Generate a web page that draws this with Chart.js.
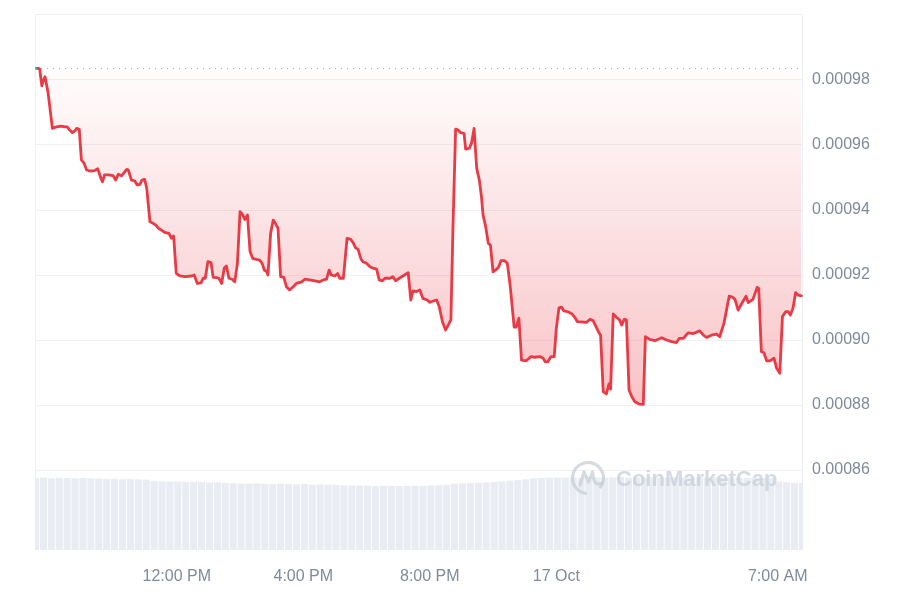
<!DOCTYPE html>
<html>
<head>
<meta charset="utf-8">
<script src="https://cdn.jsdelivr.net/npm/chart.js@4.4.1/dist/chart.umd.min.js"></script>
<style>
  html, body { margin: 0; padding: 0; background: #ffffff; }
  #wrap { width: 900px; height: 600px; }
</style>
</head>
<body>
<div id="wrap"><canvas id="c" width="900" height="600"></canvas></div>
<script>
// ---- DATA ----
// time in minutes since 00:00 on 16 Oct
const times = [
  453, 457, 460, 464, 466, 470, 473, 476, 479, 484, 492, 501, 508, 512, 517, 522, 527, 530, 535, 539,
  544, 549, 555, 564, 570, 575, 579, 583, 590, 599, 604, 609, 615, 619, 625, 628, 634, 640, 645, 650,
  654, 659, 663, 669, 675, 680, 685, 691, 697, 705, 710, 714, 719, 726, 735, 748, 753, 759, 766, 770,
  774, 779, 785, 789, 795, 800, 805, 810, 814, 819, 825, 830, 835, 840, 844, 849, 854, 859, 864, 871,
  877, 882, 886, 890, 893, 898, 903, 907, 912, 917, 923, 928, 934, 941, 947, 957, 963, 972, 982, 991,
  998, 1004, 1009, 1013, 1020, 1025, 1029, 1036, 1043, 1050, 1055, 1059, 1064, 1069, 1073, 1080, 1086, 1092, 1099, 1104,
  1110, 1115, 1124, 1130, 1135, 1142, 1149, 1159, 1164, 1168, 1175, 1181, 1187, 1195, 1200, 1208, 1213, 1218, 1224, 1230,
  1235, 1240, 1244, 1249, 1254, 1258, 1265, 1268, 1275, 1279, 1284, 1289, 1294, 1298, 1301, 1306, 1311, 1315, 1320, 1327,
  1331, 1335, 1342, 1347, 1352, 1356, 1360, 1364, 1369, 1374, 1383, 1392, 1399, 1409, 1415, 1419, 1424, 1430, 1436, 1440,
  1445, 1450, 1454, 1462, 1470, 1475, 1480, 1488, 1497, 1504, 1510, 1516, 1521, 1524, 1529, 1535, 1540, 1543, 1548, 1554,
  1560, 1564, 1569, 1573, 1578, 1583, 1589, 1597, 1605, 1609, 1617, 1627, 1640, 1649, 1659, 1668, 1673, 1681, 1690, 1700,
  1712, 1719, 1725, 1734, 1744, 1750, 1758, 1768, 1775, 1779, 1785, 1791, 1800, 1804, 1813, 1821, 1824, 1829, 1834, 1839,
  1845, 1853, 1858, 1864, 1869, 1875, 1880, 1884, 1889, 1894, 1899, 1905
];
const prices = [
  0.0009836, 0.0009836, 0.0009833, 0.0009782, 0.0009795, 0.0009810, 0.0009785, 0.0009759, 0.0009718, 0.0009651,
  0.0009656, 0.0009658, 0.0009656, 0.0009656, 0.0009646, 0.0009638, 0.0009644, 0.0009651, 0.0009648, 0.0009554,
  0.0009544, 0.0009523, 0.0009520, 0.0009521, 0.0009527, 0.0009502, 0.0009487, 0.0009508, 0.0009508, 0.0009506,
  0.0009492, 0.0009510, 0.0009505, 0.0009513, 0.0009525, 0.0009523, 0.0009492, 0.0009490, 0.0009477, 0.0009479,
  0.0009492, 0.0009494, 0.0009467, 0.0009364, 0.0009359, 0.0009354, 0.0009344, 0.0009338, 0.0009331, 0.0009328,
  0.0009313, 0.0009320, 0.0009205, 0.0009197, 0.0009195, 0.0009197, 0.0009200, 0.0009174, 0.0009176, 0.0009190,
  0.0009190, 0.0009241, 0.0009238, 0.0009193, 0.0009192, 0.0009190, 0.0009174, 0.0009221, 0.0009228, 0.0009190,
  0.0009187, 0.0009179, 0.0009236, 0.0009395, 0.0009388, 0.0009371, 0.0009385, 0.0009272, 0.0009251, 0.0009248,
  0.0009246, 0.0009236, 0.0009215, 0.0009212, 0.0009200, 0.0009328, 0.0009369, 0.0009359, 0.0009344, 0.0009195,
  0.0009193, 0.0009164, 0.0009154, 0.0009164, 0.0009174, 0.0009179, 0.0009187, 0.0009185, 0.0009182, 0.0009179,
  0.0009185, 0.0009187, 0.0009215, 0.0009200, 0.0009197, 0.0009205, 0.0009190, 0.0009190, 0.0009313, 0.0009310,
  0.0009298, 0.0009284, 0.0009279, 0.0009251, 0.0009241, 0.0009236, 0.0009226, 0.0009221, 0.0009218, 0.0009185,
  0.0009182, 0.0009190, 0.0009190, 0.0009195, 0.0009182, 0.0009190, 0.0009197, 0.0009207, 0.0009123, 0.0009151,
  0.0009149, 0.0009154, 0.0009128, 0.0009123, 0.0009116, 0.0009121, 0.0009123, 0.0009102, 0.0009056, 0.0009031,
  0.0009046, 0.0009062, 0.0009349, 0.0009649, 0.0009646, 0.0009638, 0.0009636, 0.0009587, 0.0009590, 0.0009605,
  0.0009651, 0.0009528, 0.0009492, 0.0009441, 0.0009385, 0.0009349, 0.0009298, 0.0009292, 0.0009210, 0.0009218,
  0.0009226, 0.0009244, 0.0009244, 0.0009236, 0.0009174, 0.0009108, 0.0009040, 0.0009040, 0.0009067, 0.0008938,
  0.0008936, 0.0008949, 0.0008947, 0.0008949, 0.0008944, 0.0008933, 0.0008933, 0.0008949, 0.0008949, 0.0009036,
  0.0009099, 0.0009101, 0.0009090, 0.0009087, 0.0009080, 0.0009070, 0.0009056, 0.0009056, 0.0009054, 0.0009064,
  0.0009059, 0.0009039, 0.0009022, 0.0009015, 0.0008841, 0.0008834, 0.0008865, 0.0008849, 0.0009080, 0.0009070,
  0.0009062, 0.0009046, 0.0009064, 0.0009062, 0.0008846, 0.0008826, 0.0008810, 0.0008803, 0.0008802, 0.0009010,
  0.0009002, 0.0008998, 0.0009007, 0.0009000, 0.0008995, 0.0008992, 0.0009005, 0.0009005, 0.0009022, 0.0009020,
  0.0009028, 0.0009015, 0.0009008, 0.0009015, 0.0009018, 0.0009010, 0.0009051, 0.0009135, 0.0009131, 0.0009125,
  0.0009092, 0.0009110, 0.0009135, 0.0009115, 0.0009125, 0.0009162, 0.0009159, 0.0008964, 0.0008961, 0.0008936,
  0.0008936, 0.0008944, 0.0008913, 0.0008898, 0.0009072, 0.0009087, 0.0009087, 0.0009077, 0.0009098, 0.0009146,
  0.0009138, 0.0009136
];
// opening price (dotted reference line)
const openPrice = 0.0009835;

// volume bars, one every 15 minutes starting at 07:32
const volumeTimes = [
  452, 467, 482, 497, 512, 527, 542, 557, 572, 587, 602, 617, 632, 647, 662, 677, 692, 707, 722, 737,
  752, 767, 782, 797, 812, 827, 842, 857, 872, 887, 902, 917, 932, 947, 962, 977, 992, 1007, 1022, 1037,
  1052, 1067, 1082, 1097, 1112, 1127, 1142, 1157, 1172, 1187, 1202, 1217, 1232, 1247, 1262, 1277, 1292, 1307, 1322, 1337,
  1352, 1367, 1382, 1397, 1412, 1427, 1442, 1457, 1472, 1487, 1502, 1517, 1532, 1547, 1562, 1577, 1592, 1607, 1622, 1637,
  1652, 1667, 1682, 1697, 1712, 1727, 1742, 1757, 1772, 1787, 1802, 1817, 1832, 1847, 1862, 1877, 1892, 1907
];
const volumes = [
  5.38, 5.40, 5.36, 5.39, 5.37, 5.35, 5.38, 5.36, 5.32, 5.30, 5.31, 5.28, 5.30, 5.27, 5.25, 5.15, 5.12, 5.10, 5.11, 5.08,
  5.10, 5.07, 5.05, 5.06, 5.02, 4.98, 4.96, 4.95, 4.97, 4.94, 4.92, 4.95, 4.93, 4.90, 4.92, 4.88, 4.90, 4.87, 4.85, 4.83,
  4.82, 4.80, 4.81, 4.78, 4.80, 4.79, 4.77, 4.78, 4.80, 4.79, 4.82, 4.84, 4.86, 4.95, 4.98, 5.00, 5.02, 5.05, 5.08, 5.12,
  5.18, 5.22, 5.28, 5.35, 5.38, 5.40, 5.41, 5.39, 5.42, 5.40, 5.43, 5.41, 5.40, 5.42, 5.44, 5.41, 5.43, 5.40, 5.42, 5.41,
  5.39, 5.42, 5.40, 5.41, 5.43, 5.40, 5.42, 5.39, 5.41, 5.40, 5.38, 5.39, 5.37, 5.36, 5.10, 5.05, 5.00, 5.00
];

// axis ticks
const xTickValues = [720, 960, 1200, 1440, 1860];
const xTickLabels = ['12:00 PM', '4:00 PM', '8:00 PM', '17 Oct', '7:00 AM'];
const yTickValues = [0.00086, 0.00088, 0.00090, 0.00092, 0.00094, 0.00096, 0.00098];

// ---- CHART ----
const RED = '#e93a45';
const GREEN = '#16c784';
const LABEL = '#808a9d';
const FONT = "'Liberation Sans', Arial, Helvetica, sans-serif";

const pricePoints = times.map((t, i) => ({ x: t, y: prices[i] }));
const volumePoints = volumeTimes.map((t, i) => ({ x: t, y: volumes[i] }));
const minPrice = Math.min(...prices);

const frame = {
  id: 'frame',
  beforeDatasetsDraw(chart) {
    const { ctx, chartArea: a } = chart;
    ctx.save();
    ctx.strokeStyle = '#eceff3';
    ctx.lineWidth = 1;
    ctx.beginPath();
    ctx.moveTo(Math.round(a.left) + 0.5, a.bottom);
    ctx.lineTo(Math.round(a.left) + 0.5, Math.round(a.top) + 0.5);
    ctx.lineTo(Math.round(a.right) - 0.5, Math.round(a.top) + 0.5);
    ctx.lineTo(Math.round(a.right) - 0.5, a.bottom);
    ctx.stroke();
    ctx.restore();
  },
  afterDatasetsDraw(chart) {
    // CoinMarketCap watermark
    const { ctx } = chart;
    ctx.save();
    ctx.globalAlpha = 0.7;
    ctx.strokeStyle = '#c4cad5';
    ctx.fillStyle = '#c4cad5';
    ctx.lineWidth = 3.2;
    ctx.lineCap = 'round';
    ctx.lineJoin = 'round';
    const cx = 588, cy = 478, r = 15.5;
    ctx.beginPath();
    ctx.arc(cx, cy, r, 0.55 * Math.PI, 0.2 * Math.PI + 2 * Math.PI, false);
    ctx.stroke();
    ctx.beginPath();
    ctx.moveTo(cx - 8, cy + 7);
    ctx.lineTo(cx - 4, cy - 6);
    ctx.lineTo(cx + 0.5, cy + 4);
    ctx.lineTo(cx + 4.5, cy - 6);
    ctx.lineTo(cx + 6, cy + 2);
    ctx.quadraticCurveTo(cx + 8, cy + 8, cx + 14, cy + 5);
    ctx.stroke();
    ctx.font = "bold 22px " + FONT;
    ctx.textBaseline = 'middle';
    ctx.textAlign = 'left';
    ctx.fillText('CoinMarketCap', 616, 480);
    ctx.restore();
  }
};

new Chart(document.getElementById('c'), {
  data: {
    datasets: [
      {
        type: 'line',
        label: 'Open',
        data: [{ x: 451, y: openPrice }, { x: 1908, y: openPrice }],
        borderColor: '#9aa1ae',
        borderWidth: 1,
        borderDash: [1, 5],
        pointRadius: 0,
        fill: false,
        yAxisID: 'y',
        order: 1
      },
      {
        type: 'line',
        label: 'Price',
        data: pricePoints,
        borderColor: RED,
        borderWidth: 2.8,
        borderJoinStyle: 'round',
        borderCapStyle: 'round',
        pointRadius: 0,
        tension: 0,
        segment: {
          borderColor: c => (c.p0.parsed.y >= openPrice && c.p1.parsed.y >= openPrice) ? GREEN : RED
        },
        fill: { value: openPrice },
        backgroundColor: (c) => {
          const chart = c.chart;
          if (!chart.chartArea || !chart.scales.y) return 'rgba(234,57,67,0.1)';
          const ys = chart.scales.y;
          const g = chart.ctx.createLinearGradient(0, ys.getPixelForValue(openPrice), 0, ys.getPixelForValue(minPrice));
          g.addColorStop(0, 'rgba(234,57,67,0.01)');
          g.addColorStop(1, 'rgba(234,57,67,0.30)');
          return g;
        },
        yAxisID: 'y',
        order: 2
      },
      {
        type: 'bar',
        label: 'Volume',
        data: volumePoints,
        backgroundColor: '#e9edf3',
        borderWidth: 0,
        barPercentage: 0.9,
        categoryPercentage: 1,
        yAxisID: 'yVol',
        order: 3
      }
    ]
  },
  options: {
    responsive: false,
    devicePixelRatio: 1,
    animation: false,
    layout: { padding: { left: 35, top: 14, right: 0, bottom: 0 } },
    plugins: {
      legend: { display: false },
      tooltip: { enabled: false }
    },
    scales: {
      x: {
        type: 'linear',
        position: 'bottom',
        min: 451,
        max: 1908,
        offset: false,
        grid: { display: false, drawTicks: false, offset: false },
        border: { display: false },
        afterBuildTicks: s => { s.ticks = xTickValues.map(v => ({ value: v })); },
        afterFit: s => { s.height = 50; s.paddingLeft = 0; s.paddingRight = 0; },
        ticks: {
          autoSkip: false,
          maxRotation: 0,
          padding: 17,
          color: LABEL,
          font: { family: FONT, size: 16 },
          callback: v => xTickLabels[xTickValues.indexOf(v)]
        }
      },
      y: {
        type: 'linear',
        position: 'right',
        min: 0.0008354,
        max: 0.0010003,
        grid: { color: '#eff1f4', lineWidth: 1, drawTicks: false },
        border: { display: false },
        afterBuildTicks: s => { s.ticks = yTickValues.map(v => ({ value: v })); },
        afterFit: s => { s.width = 97; s.paddingTop = 0; s.paddingBottom = 0; },
        ticks: {
          padding: 9,
          color: LABEL,
          font: { family: FONT, size: 16 },
          callback: v => Number(v).toFixed(5)
        }
      },
      yVol: {
        type: 'linear',
        display: false,
        min: 0,
        max: 40
      }
    }
  },
  plugins: [frame]
});
</script>
</body>
</html>
